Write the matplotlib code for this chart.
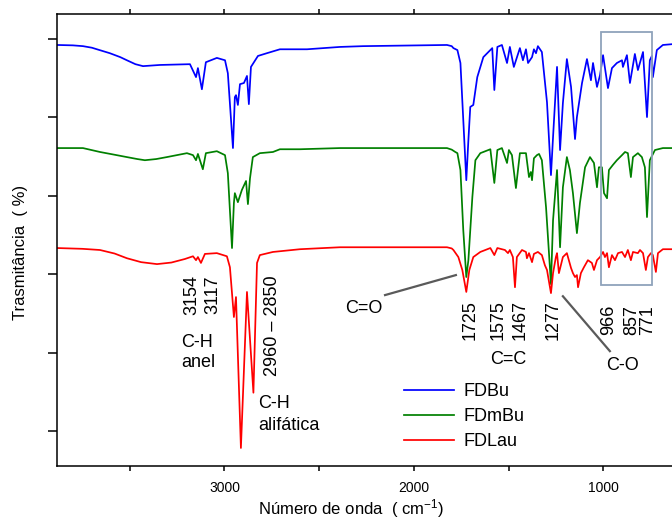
import matplotlib
matplotlib.use("Agg")
import matplotlib.pyplot as plt
from matplotlib.patches import Rectangle
from matplotlib.lines import Line2D

plt.rcParams['font.family'] = ['Liberation Sans', 'DejaVu Sans']
plt.rcParams['mathtext.fontset'] = 'custom'
plt.rcParams['mathtext.rm'] = 'Liberation Sans'
plt.rcParams['mathtext.it'] = 'Liberation Sans'

# ---- data (wavenumber cm-1, transmittance with offsets) ----
blue_wn = [3884, 3800, 3747, 3700, 3673, 3605, 3550, 3515, 3470, 3430, 3341, 3182, 3150, 3140, 3119,
           3098, 3040, 2997, 2982, 2955, 2945, 2939, 2929, 2918, 2897, 2881, 2871, 2860, 2823, 2776,
           2707, 2564, 2390, 2268, 1825, 1800, 1791, 1770, 1754, 1723, 1712, 1702, 1686, 1665, 1633,
           1586, 1575, 1559, 1535, 1508, 1493, 1472, 1440, 1424, 1408, 1397, 1376, 1366, 1355, 1345,
           1324, 1297, 1276, 1265, 1244, 1228, 1213, 1192, 1170, 1149, 1139, 1112, 1086, 1065, 1054,
           1033, 1017, 1001, 975, 954, 928, 901, 896, 875, 859, 833, 817, 790, 769, 754, 743, 738, 717,
           685, 637]
blue_t = [98.5, 98.4, 98.2, 97.8, 97.4, 96.4, 95.4, 94.6, 93.6, 93.1, 93.4, 93.6, 90.3, 92.6, 87.2,
          94.1, 95.2, 94.6, 91.3, 72.2, 85.2, 85.7, 83.2, 88.5, 88.8, 90.6, 83.4, 92.9, 95.7, 96.4,
          97.4, 97.4, 98.0, 98.2, 98.5, 98.2, 97.7, 97.2, 93.9, 64.0, 74.2, 82.7, 83.2, 90.3, 95.4,
          97.7, 87.0, 98.0, 98.5, 93.9, 98.0, 92.9, 97.7, 94.6, 97.4, 93.9, 95.4, 97.4, 96.4, 98.2,
          96.7, 83.9, 65.3, 75.0, 92.9, 71.7, 83.7, 94.9, 87.8, 74.5, 80.1, 88.8, 94.9, 89.5, 93.9,
          87.8, 90.8, 95.9, 87.5, 92.6, 93.9, 94.6, 92.9, 95.9, 88.8, 96.2, 92.1, 96.7, 80.1, 94.6,
          95.7, 90.3, 97.2, 98.5, 98.7]

green_wn = [3884, 3747, 3657, 3580, 3515, 3460, 3420, 3360, 3304, 3198, 3166, 3150, 3140, 3114, 3098,
            3040, 2997, 2982, 2960, 2950, 2945, 2929, 2908, 2886, 2876, 2865, 2850, 2813, 2744, 2707,
            2601, 2390, 1825, 1800, 1781, 1770, 1754, 1739, 1723, 1712, 1691, 1675, 1649, 1596, 1575,
            1559, 1535, 1508, 1498, 1482, 1461, 1440, 1408, 1392, 1382, 1376, 1366, 1350, 1339, 1324,
            1302, 1276, 1265, 1244, 1228, 1213, 1192, 1176, 1160, 1139, 1123, 1096, 1070, 1049, 1033,
            1023, 1007, 996, 980, 970, 949, 928, 901, 885, 870, 854, 843, 817, 796, 780, 769, 754, 727,
            685, 637]
green_t = [72.2, 72.2, 71.2, 70.5, 69.9, 69.4, 69.1, 69.4, 69.9, 70.9, 70.4, 69.1, 70.7, 66.8, 70.9,
           71.4, 70.4, 65.8, 46.7, 58.2, 60.7, 58.4, 61.5, 63.8, 57.9, 64.5, 69.9, 70.9, 71.2, 71.9,
           71.9, 72.2, 72.2, 71.8, 71.2, 70.9, 66.6, 51.3, 39.3, 43.6, 59.7, 69.1, 70.9, 71.9, 63.3,
           71.7, 72.2, 68.4, 71.7, 70.4, 62.0, 70.9, 70.9, 64.8, 66.1, 64.0, 69.6, 70.4, 70.7, 69.1,
           57.1, 37.5, 53.8, 66.6, 46.9, 62.2, 69.9, 66.6, 60.7, 50.5, 58.2, 67.3, 69.9, 68.4, 62.2,
           67.3, 67.3, 60.7, 59.4, 66.6, 67.9, 69.1, 70.4, 71.2, 70.9, 64.8, 69.9, 70.9, 69.9, 67.3,
           54.6, 69.1, 71.7, 72.2, 72.2]

red_wn = [3884, 3750, 3657, 3580, 3515, 3440, 3356, 3280, 3209, 3166, 3150, 3140, 3124, 3103, 3040,
          2987, 2971, 2950, 2939, 2913, 2881, 2847, 2828, 2813, 2744, 2601, 2390, 1825, 1800, 1791,
          1765, 1744, 1723, 1707, 1686, 1649, 1596, 1575, 1559, 1519, 1503, 1493, 1477, 1466, 1456,
          1429, 1408, 1403, 1392, 1376, 1366, 1345, 1324, 1308, 1297, 1276, 1265, 1250, 1244, 1234,
          1213, 1192, 1170, 1160, 1149, 1139, 1133, 1118, 1102, 1081, 1060, 1049, 1033, 1017, 1001,
          991, 980, 970, 954, 938, 922, 901, 885, 870, 854, 843, 817, 806, 790, 775, 764, 748, 738,
          722, 711, 685, 637]
red_t = [46.7, 46.5, 46.2, 45.3, 44.1, 43.1, 42.6, 43.0, 43.9, 44.6, 43.6, 44.4, 42.9, 45.2, 45.4,
         44.6, 41.8, 29.1, 34.2, -4.3, 35.5, 9.8, 42.9, 44.9, 45.7, 46.4, 46.9, 46.9, 46.6, 46.2,
         44.4, 41.1, 35.5, 41.1, 44.4, 45.7, 46.7, 44.9, 46.7, 46.2, 45.4, 46.2, 44.4, 36.7, 44.4,
         46.2, 45.7, 44.1, 45.4, 43.1, 45.2, 45.7, 44.9, 42.3, 41.1, 35.2, 40.3, 44.4, 45.4, 40.3,
         44.4, 45.4, 41.6, 40.3, 39.3, 39.8, 36.7, 40.3, 41.8, 43.6, 42.9, 41.1, 43.6, 44.4, 45.7,
         44.4, 45.4, 41.8, 44.9, 43.6, 45.4, 45.7, 44.4, 46.2, 43.6, 45.7, 45.4, 46.2, 45.4, 41.1,
         44.4, 45.4, 44.9, 40.6, 45.4, 46.4, 46.4]

series_names = ['FDBu', 'FDmBu', 'FDLau']
series_colors = ['#0000ff', '#008000', '#ff0000']

peak_labels = ['1725', '1575', '1467', '1277', '966', '857', '771']
peak_label_x = [1704, 1556, 1440, 1266, 970, 849, 764]
ch_labels = ['3154', '3117']
ch_label_x = [3172, 3061]
x_ticks = [1000, 2000, 3000]
x_minor = [1500, 2500, 3500]
y_ticks = [0, 20, 40, 60, 80, 100]

W, H = 672, 519
fig = plt.figure(figsize=(W / 100, H / 100), dpi=100)
ax = fig.add_axes([57 / W, 53 / H, 622 / W, 452 / H])

for xs, ys, c in zip([blue_wn, green_wn, red_wn], [blue_t, green_t, red_t], series_colors):
    ax.plot(xs, ys, color=c, lw=1.25, solid_joinstyle='round')

ax.set_xlim(3884, 600)
ax.set_ylim(-8.9, 106.4)

ax.set_xticks(x_ticks)
ax.set_xticklabels([str(v) for v in x_ticks], fontsize=10)
ax.set_xticks(x_minor, minor=True)
ax.set_yticks(y_ticks)
ax.set_yticklabels([])
ax.tick_params(axis='x', which='both', direction='out', length=3.6, width=1.1, pad=7.5,
               top=True, labeltop=False)
ax.tick_params(axis='y', which='both', direction='out', length=6.5, width=1.1, right=False)
for s in ax.spines.values():
    s.set_linewidth(1.1)

# highlight box
ax.add_patch(Rectangle((743, 37.2), 1012 - 743, 101.8 - 37.2, fill=False,
                       edgecolor='#8fa3bb', lw=1.3, zorder=5))

fs = 13
for lab, x in zip(ch_labels, ch_label_x):
    ax.text(x, 34.7, lab, rotation=90, ha='center', va='center', fontsize=fs)
ax.text(3230, 21.4, 'C-H', ha='left', va='baseline', fontsize=fs)
ax.text(3230, 16.3, 'anel', ha='left', va='baseline', fontsize=fs)
ax.text(2744, 26.8, '2960 \u2013 2850', rotation=90, ha='center', va='center', fontsize=fs)
ax.text(2823, 5.9, 'C-H', ha='left', va='baseline', fontsize=fs)
ax.text(2823, 0.3, 'alifática', ha='left', va='baseline', fontsize=fs)

ax.text(2263, 30.1, 'C=O', ha='center', va='baseline', fontsize=fs)
ax.plot([2152, 1778], [34.7, 39.8], color='#5a5a5a', lw=1.6)
for lab, x in zip(peak_labels, peak_label_x):
    ax.text(x, 28.4, lab, rotation=90, ha='center', va='center', fontsize=fs)
ax.text(1502, 17.1, 'C=C', ha='center', va='baseline', fontsize=fs)
ax.plot([1213, 965], [34.4, 20.4], color='#5a5a5a', lw=1.6)
ax.text(896, 15.6, 'C-O', ha='center', va='baseline', fontsize=fs)

handles = [Line2D([], [], color=c, lw=1.25) for c in series_colors]
fig.legend(handles, series_names, loc='upper left', bbox_to_anchor=(404 / W, 1 - 383 / H),
           frameon=False, fontsize=fs, handlelength=2.75, handletextpad=0.55,
           labelspacing=0.45, borderpad=0, borderaxespad=0)

fig.text(351 / W, 5 / H, 'Número de onda  ( cm$^{-1}$)', ha='center', va='baseline', fontsize=12)
fig.text(21 / W, 1 - 252 / H, 'Trasmitância  ( %)', rotation=90, ha='center', va='center', fontsize=12)

fig.savefig('out.png', dpi=100)
